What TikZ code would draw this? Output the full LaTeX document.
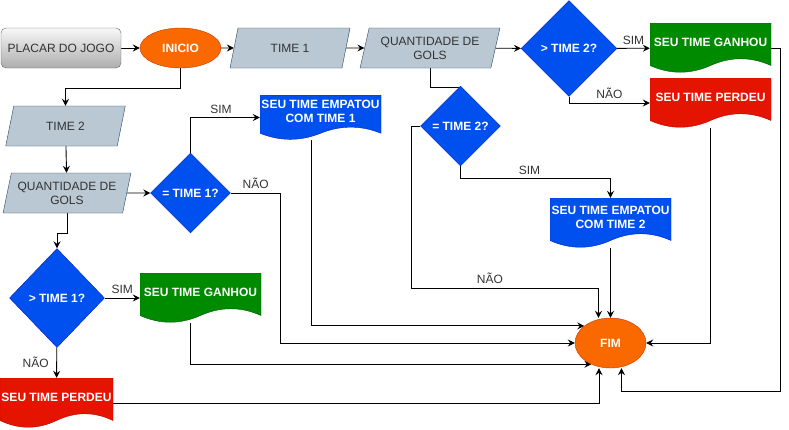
\documentclass[tikz,border=0pt]{standalone}
\usepackage{fontspec}
\setmainfont{Liberation Sans}
\usetikzlibrary{shapes.geometric,arrows.meta,backgrounds,calc}
\definecolor{inkgray}{HTML}{333333}
\definecolor{ovalfill}{HTML}{FA6800}
\definecolor{ovaldraw}{HTML}{C73500}
\definecolor{datafill}{HTML}{BAC8D3}
\definecolor{datadraw}{HTML}{23445D}
\definecolor{askfill}{HTML}{0050EF}
\definecolor{askdraw}{HTML}{001DBC}
\definecolor{winfill}{HTML}{008A00}
\definecolor{windraw}{HTML}{005700}
\definecolor{losefill}{HTML}{E51400}
\definecolor{losedraw}{HTML}{B20000}
\begin{document}
\begin{tikzpicture}[x=1pt, y=-1pt, font=\fontsize{12}{14}\selectfont,
        start/.style={rectangle, rounded corners=5pt, top color=black!3, bottom color=black!32, draw=black!60, text=inkgray, minimum width=120pt, minimum height=40pt},
        oval/.style={ellipse, fill=ovalfill, draw=ovaldraw, text=white, font=\fontsize{12}{14}\selectfont\bfseries, inner sep=0pt},
        data/.style={trapezium, trapezium left angle=73, trapezium right angle=107, trapezium stretches=true, fill=datafill, draw=datadraw, text=inkgray, align=center, minimum height=40pt, inner sep=1pt},
        ask/.style={diamond, aspect=1, fill=askfill, draw=askdraw, text=white, font=\fontsize{12}{14}\selectfont\bfseries, inner sep=0pt},
        doc/.style 2 args={rectangle, inner sep=0pt, path picture={
            \fill[#1, draw=#2] let \p1=(path picture bounding box.north west), \p2=(path picture bounding box.south east), \n1={\x2-\x1}, \n2={\y1-\y2} in
                (\p1) -- (\x2,\y1) -- ({\x2},{\y1-0.85*\n2})
                .. controls ({\x1+0.8333*\n1},{\y1-0.67*\n2}) and ({\x1+0.6667*\n1},{\y1-0.67*\n2}) .. ({\x1+0.5*\n1},{\y1-0.85*\n2})
                .. controls ({\x1+0.3333*\n1},{\y1-1.03*\n2}) and ({\x1+0.1667*\n1},{\y1-1.03*\n2}) .. ({\x1},{\y1-0.85*\n2}) -- cycle;}},
        doctext/.style={text=white, font=\fontsize{12}{14}\selectfont\bfseries, align=center, yshift=6pt},
        wire/.style={draw=black, line width=0.9pt, -{Stealth[length=7pt,width=7pt,inset=2.5pt]}},
        tag/.style={text=inkgray, inner sep=3.5pt}] %placar
            \useasboundingbox (0,0) rectangle (789,429);

            % linha de cima
            \node[start] (placar) at (61,48) {PLACAR DO JOGO};
            \node[oval, minimum width=81pt, minimum height=40pt] (inicio) at (180.5,48) {INICIO};
            \node[data, minimum width=120pt] (time1) at (290,48) {TIME 1};
            \node[data, minimum width=140pt] (qtd1) at (430,48) {QUANTIDADE DE\\GOLS};
            \node[ask, minimum width=96pt, minimum height=96pt] (maior2) at (569,48.5) {> TIME 2?};
            \node[doc={winfill}{windraw}, minimum width=121pt, minimum height=50pt, label={[doctext]center:SEU TIME GANHOU}] (ganhou2) at (710.5,48) {};
            \node[doc={losefill}{losedraw}, minimum width=121pt, minimum height=50pt, label={[doctext]center:SEU TIME PERDEU}] (perdeu2) at (710.5,103) {};
            \node[ask, minimum width=80pt, minimum height=80pt] (igual2) at (460.5,126) {= TIME 2?};
            \node[doc={askfill}{askdraw}, minimum width=121pt, minimum height=50pt, label={[doctext]center:SEU TIME EMPATOU\\COM TIME 2}] (empate2) at (610.5,223) {};
            \node[oval, minimum width=71pt, minimum height=50pt] (fim) at (610.5,343) {FIM};

            % lado esquerdo
            \node[data, minimum width=120pt] (time2) at (65.5,126) {TIME 2};
            \node[data, minimum width=128pt] (qtd2) at (67,193) {QUANTIDADE DE\\GOLS};
            \node[ask, minimum width=80pt, minimum height=80pt] (igual1) at (190.5,193) {= TIME 1?};
            \node[doc={askfill}{askdraw}, minimum width=121pt, minimum height=45pt, label={[doctext]center:SEU TIME EMPATOU\\COM TIME 1}] (empate1) at (320.5,117.5) {};
            \node[ask, minimum width=95pt, minimum height=99pt] (maior1) at (57,298) {> TIME 1?};
            \node[doc={winfill}{windraw}, minimum width=121pt, minimum height=50pt, label={[doctext]center:SEU TIME GANHOU}] (ganhou1) at (200.5,298) {};
            \node[doc={losefill}{losedraw}, minimum width=113pt, minimum height=50pt, label={[doctext]center:SEU TIME PERDEU}] (perdeu1) at (56.5,403) {};

            \begin{scope}[on background layer]
            \draw[wire] (placar) -- (inicio);
            \draw[wire] (inicio) -- (time1);
            \draw[wire] (time1) -- (qtd1);
            \draw[wire] (qtd1) -- (maior2);
            \draw[wire] (maior2) -- node[tag, above] {SIM} (ganhou2);
            \draw[wire] (maior2) |- node[tag, pos=0.75, above] {NÃO} (perdeu2);
            \draw[wire, -] (qtd1.south) |- ([yshift=-2pt]igual2.north);
            \draw[wire] (igual2.west) -- ++(-9,0) -- ++(0,162) -| node[tag, pos=0.21, above] {NÃO} ([xshift=-12pt]fim.north);
            \draw[wire] (igual2.south) -- ++(0,12) -| node[tag, pos=0.23, above] {SIM} (empate2.north);
            \draw[wire] (empate2) -- (fim);
            \draw[wire] (perdeu2) |- (fim);
            \draw[wire] (ganhou2.east) -- ++(9,0) -- ++(0,343) -| ([xshift=11pt]fim.south);

            \draw[wire] (inicio.south) -- ++(0,20) -| (time2.north);
            \draw[wire] (time2) -- (qtd2);
            \draw[wire] (qtd2) -- (igual1);
            \draw[wire] (igual1) |- node[tag, pos=0.72, above] {SIM} (empate1);
            \draw[wire] (igual1.east) -- ++(50,0) node[tag, midway, above] {NÃO} |- (fim.west);
            \draw[wire] ([xshift=-9pt]empate1.south) |- (fim.147);
            \draw[wire] (qtd2.south) -- ++(0,20) -| (maior1.north);
            \draw[wire] (maior1) -- node[tag, above] {SIM} (ganhou1);
            \draw[wire] (maior1) -- node[tag, left=4pt] {NÃO} (perdeu1);
            \draw[wire] ([xshift=-10pt]ganhou1.south) |- (fim.228);
            \draw[wire] (perdeu1.east) -| ([xshift=-11.5pt]fim.south);
            \end{scope}
        \end{tikzpicture}
\end{document}
